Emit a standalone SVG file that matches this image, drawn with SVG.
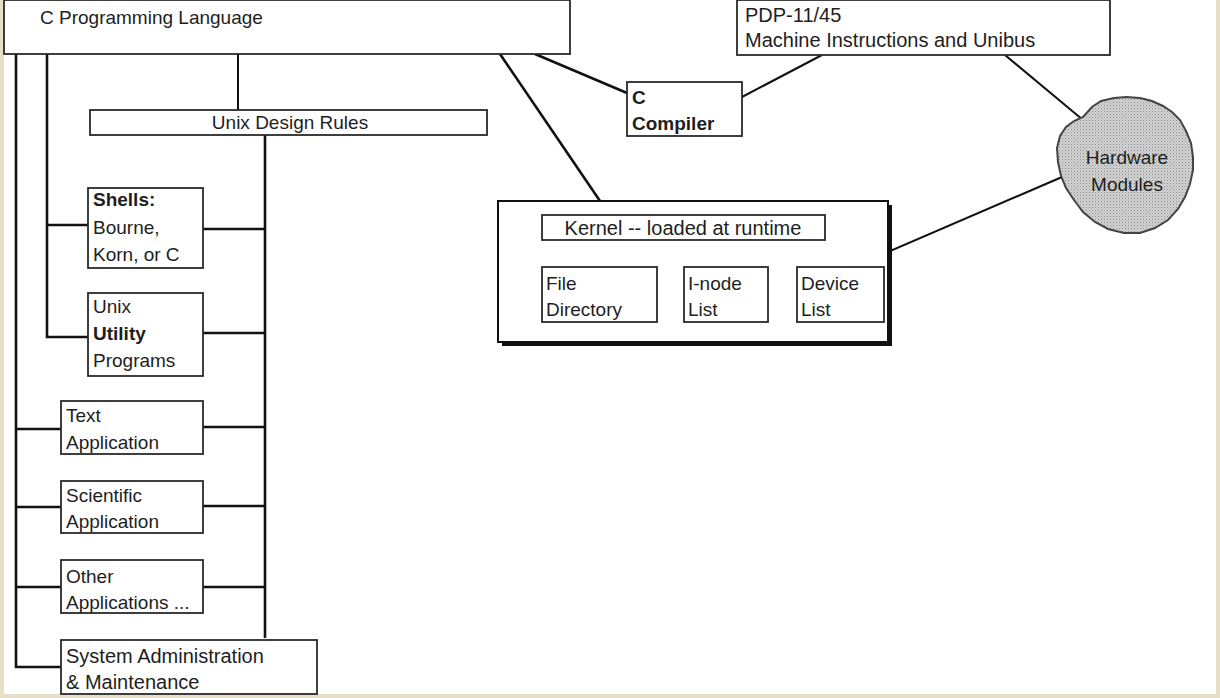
<svg xmlns="http://www.w3.org/2000/svg" width="1220" height="698" viewBox="0 0 1220 698">
<defs>
<style>
.box{fill:#fff;stroke:#2a2a2a;stroke-width:1.8}
.t{font-family:"Liberation Sans",Arial,sans-serif;font-size:19px;fill:#1e1e1e}
.w{font-size:20px}
.b{font-weight:bold}
.c{fill:none;stroke:#111;stroke-width:2.6}
.cm{fill:none;stroke:#111;stroke-width:2}
</style>
<pattern id="stip" width="3" height="3" patternUnits="userSpaceOnUse">
<rect width="3" height="3" fill="#d4d4d4"/>
<rect width="1" height="1" fill="#8a8a8a"/>
<rect x="1.5" y="1.5" width="1" height="1" fill="#a0a0a0"/>
</pattern>
</defs>
<rect x="0" y="0" width="1220" height="698" fill="#e7dec7"/>
<rect x="4" y="0" width="1212" height="694" fill="#fff"/>

<g id="connectors">
<polyline class="c" points="16,54 16,667 61,667"/>
<polyline class="c" points="47,54 47,337 88,337"/>
<line class="c" x1="47" y1="225" x2="88" y2="225"/>
<line class="c" x1="16" y1="429" x2="61" y2="429"/>
<line class="c" x1="16" y1="507" x2="61" y2="507"/>
<line class="c" x1="16" y1="587" x2="61" y2="587"/>
<line class="cm" x1="238" y1="54" x2="238" y2="110"/>
<line class="c" x1="265" y1="135" x2="265" y2="638"/>
<line class="c" x1="203" y1="229" x2="265" y2="229"/>
<line class="c" x1="203" y1="333" x2="265" y2="333"/>
<line class="c" x1="203" y1="427" x2="265" y2="427"/>
<line class="c" x1="203" y1="506" x2="265" y2="506"/>
<line class="c" x1="203" y1="587" x2="265" y2="587"/>
<line class="c" x1="500" y1="54" x2="600" y2="201"/>
<line class="c" x1="535" y1="54" x2="627" y2="93"/>
<line class="cm" x1="742" y1="97" x2="822" y2="55"/>
<line class="cm" x1="1005" y1="55" x2="1083" y2="120"/>
<line class="cm" x1="1062" y1="177" x2="853" y2="267"/>
<line class="c" x1="580" y1="240" x2="594" y2="267"/>
<line class="c" x1="700" y1="240" x2="717" y2="267"/>
<line class="c" x1="800" y1="240" x2="817" y2="267"/>
</g>

<g id="c-programming-language">
<rect class="box" x="4" y="0" width="566" height="54"/>
<text class="t" x="40" y="24">C Programming Language</text>
</g>

<g id="pdp">
<rect class="box" x="737" y="0" width="373" height="55"/>
<text class="t w" x="745" y="22">PDP-11/45</text>
<text class="t w" x="745" y="47">Machine Instructions and Unibus</text>
</g>

<g id="c-compiler">
<rect class="box" x="627" y="82" width="115" height="54"/>
<text class="t b" x="632" y="104">C</text>
<text class="t b" x="632" y="130">Compiler</text>
</g>

<g id="unix-design-rules">
<rect class="box" x="90" y="110" width="397" height="25"/>
<text class="t" x="290" y="129" text-anchor="middle">Unix Design Rules</text>
</g>

<g id="shells">
<rect class="box" x="88" y="188" width="115" height="80"/>
<text class="t b" x="93" y="206">Shells:</text>
<text class="t" x="93" y="234">Bourne,</text>
<text class="t" x="93" y="261">Korn, or C</text>
</g>

<g id="unix-utility">
<rect class="box" x="88" y="293" width="115" height="83"/>
<text class="t" x="93" y="313">Unix</text>
<text class="t b" x="93" y="340">Utility</text>
<text class="t" x="93" y="367">Programs</text>
</g>

<g id="text-application">
<rect class="box" x="61" y="401" width="142" height="53"/>
<text class="t" x="66" y="422">Text</text>
<text class="t" x="66" y="449">Application</text>
</g>

<g id="scientific-application">
<rect class="box" x="61" y="481" width="142" height="52"/>
<text class="t" x="66" y="502">Scientific</text>
<text class="t" x="66" y="528">Application</text>
</g>

<g id="other-applications">
<rect class="box" x="61" y="560" width="142" height="53"/>
<text class="t" x="66" y="583">Other</text>
<text class="t" x="66" y="609">Applications ...</text>
</g>

<g id="system-administration">
<rect class="box" x="61" y="640" width="256" height="54"/>
<text class="t w" x="66" y="663">System  Administration</text>
<text class="t w" x="66" y="689">&amp; Maintenance</text>
</g>

<g id="kernel-group">
<rect x="502" y="205" width="390" height="141" fill="#111"/>
<rect x="498" y="201" width="390" height="141" fill="#fff" stroke="#111" stroke-width="2"/>
</g>

<g id="kernel">
<rect class="box" x="542" y="215" width="283" height="25"/>
<text class="t w" x="683" y="235" text-anchor="middle">Kernel -- loaded at runtime</text>
</g>

<g id="file-directory">
<rect class="box" x="542" y="267" width="115" height="55"/>
<text class="t" x="546" y="290">File</text>
<text class="t" x="546" y="316">Directory</text>
</g>

<g id="inode-list">
<rect class="box" x="684" y="267" width="84" height="55"/>
<text class="t" x="688" y="290">I-node</text>
<text class="t" x="688" y="316">List</text>
</g>

<g id="device-list">
<rect class="box" x="797" y="267" width="87" height="55"/>
<text class="t" x="801" y="290">Device</text>
<text class="t" x="801" y="316">List</text>
</g>

<g id="hardware-modules">
<path d="M1083,117 L1092,107 L1101,101 L1114,98 L1126,97 L1140,98 L1152,101 L1163,106 L1172,112 L1180,120 L1186,131 L1191,143 L1193,157 L1193,170 L1190,184 L1185,197 L1178,209 L1168,220 L1155,228 L1140,233 L1124,233 L1108,229 L1095,222 L1083,212 L1074,200 L1066,188 L1061,176 L1058,162 L1057,148 L1060,136 L1066,127 L1074,121 Z" fill="url(#stip)" stroke="#444" stroke-width="2"/>
<text class="t" x="1127" y="164" text-anchor="middle">Hardware</text>
<text class="t" x="1127" y="191" text-anchor="middle">Modules</text>
</g>
</svg>
